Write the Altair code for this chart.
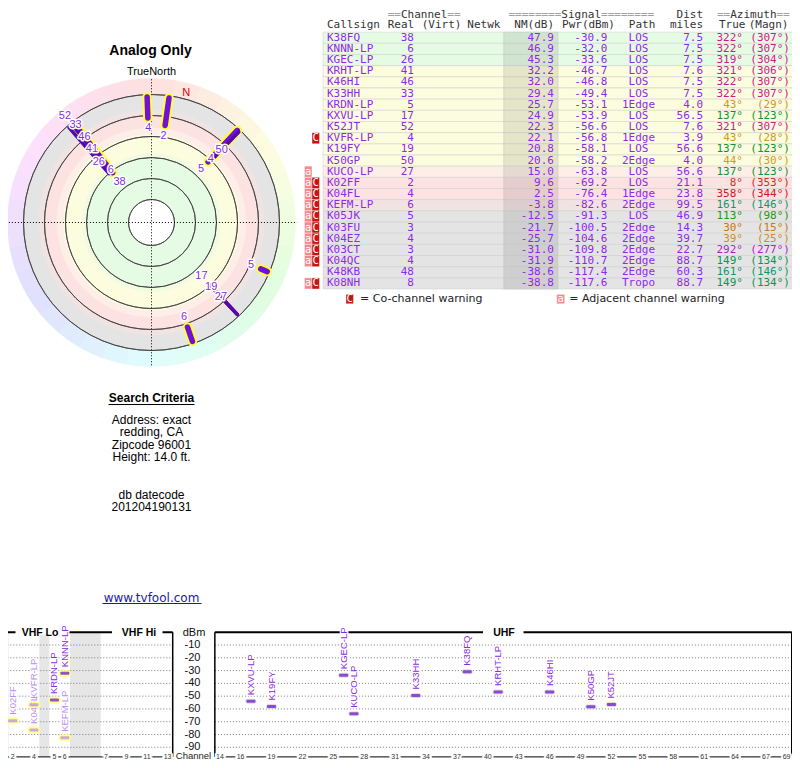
import math
import colorsys
import altair as alt
import pandas as pd

# ------------------------------------------------------------------ data
callsign = ["K38FQ", "KNNN-LP", "KGEC-LP", "KRHT-LP", "K46HI", "K33HH", "KRDN-LP",
            "KXVU-LP", "K52JT", "KVFR-LP", "K19FY", "K50GP", "KUCO-LP", "K02FF",
            "K04FL", "KEFM-LP", "K05JK", "K03FU", "K04EZ", "K03CT", "K04QC",
            "K48KB", "K08NH"]
real_ch = [38, 6, 26, 41, 46, 33, 5, 17, 52, 4, 19, 50, 27, 2, 4, 6, 5, 3, 4, 3, 4, 48, 8]
nm_db = [47.9, 46.9, 45.3, 32.2, 32.0, 29.4, 25.7, 24.9, 22.3, 22.1, 20.8, 20.6, 15.0,
         9.6, 2.5, -3.8, -12.5, -21.7, -25.7, -31.0, -31.9, -38.6, -38.8]
pwr_dbm = [-30.9, -32.0, -33.6, -46.7, -46.8, -49.4, -53.1, -53.9, -56.6, -56.8, -58.1,
           -58.2, -63.8, -69.2, -76.4, -82.6, -91.3, -100.5, -104.6, -109.8, -110.7,
           -117.4, -117.6]
path_type = ["LOS", "LOS", "LOS", "LOS", "LOS", "LOS", "1Edge", "LOS", "LOS", "1Edge",
             "LOS", "2Edge", "LOS", "LOS", "1Edge", "2Edge", "LOS", "2Edge", "2Edge",
             "2Edge", "2Edge", "2Edge", "Tropo"]
dist_miles = [7.5, 7.5, 7.5, 7.6, 7.5, 7.5, 4.0, 56.5, 7.6, 3.9, 56.6, 4.0, 56.6, 21.1,
              23.8, 99.5, 46.9, 14.3, 39.7, 22.7, 88.7, 60.3, 88.7]
az_true = [322, 322, 319, 321, 322, 322, 43, 137, 321, 43, 137, 44, 137, 8, 358, 161,
           113, 30, 39, 292, 149, 161, 149]
az_magn = [307, 307, 304, 306, 307, 307, 29, 123, 307, 28, 123, 30, 123, 353, 344, 146,
           98, 15, 25, 277, 134, 146, 134]
adj_warning = [0] * 12 + [1] * 9 + [0, 1]
co_warning = [0] * 9 + [1] + [0] * 3 + [1] * 8 + [0, 1]

vhf_ticks = [2, 4, 5, 6, 7, 9, 11, 13]
uhf_ticks = [14, 16, 19, 22, 25, 28, 31, 34, 37, 40, 43, 46, 49, 52, 55, 58, 61, 64, 67, 69]
dbm_ticks = [-10, -20, -30, -40, -50, -60, -70, -80, -90]
ring_nm = [90, 67.5, 45, 22.5, 0, -22.5]
search_lines = ["Address: exact", "redding, CA", "Zipcode 96001", "Height: 14.0 ft."]
datecode_lines = ["db datecode", "201204190131"]

# ------------------------------------------------------------------ styles
SANS = "Liberation Sans"
VERD = "DejaVu Sans"
MONO = "DejaVu Sans Mono"
PURPLE = "#9028e8"
LABEL_PURPLE = "#8a2be2"
HEAD = "#333333"
EQ = "#a0a0a0"
CO_RED = "#c81414"
ADJ_RED = "#f28a8a"

BAND_LIMITS = [(90, 44), (44, 40), (40, 20), (20, 13), (13, 0), (0, -6), (-6, -22.5)]
BAND_COLORS = ["#e6fbe4", "#f1fbdf", "#fcfcdf", "#fdefe7", "#fde2e2", "#f2e3e3", "#e4e4e4"]


def hexc(rgb):
    return "#%02x%02x%02x" % tuple(max(0, min(255, int(round(v * 255)))) for v in rgb)


def az_color(a):
    l = 0.45 - 0.13 * max(0.0, math.cos(math.radians(a - 140)))
    return hexc(colorsys.hls_to_rgb((a % 360) / 360.0, l, 0.78))


def pastel(a):
    return hexc(colorsys.hls_to_rgb((a % 360) / 360.0, 0.935, 0.9))


def darker(h, f=0.91):
    r, g, b = (int(h[i:i + 2], 16) for i in (1, 3, 5))
    return "#%02x%02x%02x" % (int(r * f), int(g * f), int(b * f))


def band_color(nm):
    for (hi, lo), c in zip(BAND_LIMITS, BAND_COLORS):
        if nm >= lo:
            return c
    return BAND_COLORS[-1]


def ch_mhz(c):
    if c <= 4:
        lo = 54 + 6 * (c - 2)
    elif c <= 6:
        lo = 76 + 6 * (c - 5)
    elif c <= 13:
        lo = 174 + 6 * (c - 7)
    else:
        lo = 470 + 6 * (c - 14)
    return lo + 3


def free_text(text, x, y, **kw):
    return alt.Chart(pd.DataFrame({"t": [text]})).mark_text(**kw).encode(
        text="t:N", x=alt.value(x), y=alt.value(y))


st = pd.DataFrame(dict(call=callsign, ch=real_ch, nm=nm_db, pwr=pwr_dbm, pth=path_type,
                       dist=dist_miles, az=az_true, mag=az_magn, adj=adj_warning,
                       co=co_warning))
st["row"] = list(range(len(st)))
st["vhf"] = st["ch"] <= 13

# ------------------------------------------------------------------ polar plot
NM_CENTER, NM_WHEEL, NM_RING_OUT, BAR_FLOOR = 114.64, -39.64, -22.5, -20.0
CX, CY, R_PX = 143.5, 214.5, 144.0
RHO_MAX = NM_CENTER - NM_WHEEL
PXDB = R_PX / RHO_MAX

PX = alt.Scale(domain=[-RHO_MAX, RHO_MAX], range=[CX - R_PX, CX + R_PX], nice=False, zero=False)
PY = alt.Scale(domain=[-RHO_MAX, RHO_MAX], range=[CY + R_PX, CY - R_PX], nice=False, zero=False)
PR = alt.Scale(type="linear", domain=[NM_CENTER, NM_WHEEL], range=[0, R_PX], nice=False, zero=False)
PT = alt.Scale(domain=[0, 360], range=[0, 2 * math.pi], nice=False, zero=False)

center = dict(x=alt.XDatum(0, type="quantitative", scale=PX, axis=None),
              y=alt.YDatum(0, type="quantitative", scale=PY, axis=None))


def cart(rho, az):
    return rho * math.sin(math.radians(az)), rho * math.cos(math.radians(az))


wheel = pd.DataFrame({"a0": list(range(0, 360, 10))})
wheel["a1"] = wheel["a0"] + 10
wheel["r0"] = NM_WHEEL
wheel["r1"] = NM_RING_OUT
wheel["c"] = [pastel(a + 5) for a in wheel["a0"]]

bands = pd.DataFrame({"hi": [b[0] for b in BAND_LIMITS], "lo": [b[1] for b in BAND_LIMITS],
                      "c": BAND_COLORS})
bands["a0"] = 0
bands["a1"] = 360

rings = pd.DataFrame({"nm": ring_nm, "a0": 0, "a1": 360})

cross = pd.DataFrame({"x": [-156.0, 0.0], "y": [0.0, -153.0], "x2": [156.0, 0.0], "y2": [0.0, 155.0]})

pol = st[st["nm"] >= -15].copy()
p1 = [cart(NM_CENTER - n, a) for n, a in zip(pol["nm"], pol["az"])]
p2 = [cart(NM_CENTER - BAR_FLOOR, a) for a in pol["az"]]
pol["x1"] = [p[0] for p in p1]
pol["y1"] = [p[1] for p in p1]
pol["x2"] = [p[0] for p in p2]
pol["y2"] = [p[1] for p in p2]

# channel labels: stacked outward along each azimuth cluster
srt = pol.sort_values("az")
clusters, cur, prev = [], [], None
for _, r in srt.iterrows():
    if prev is not None and r["az"] - prev > 5:
        clusters.append(cur)
        cur = []
    cur.append(r)
    prev = r["az"]
clusters.append(cur)
lab_rows = []
for cl in clusters:
    last = -1e9
    for r in sorted(cl, key=lambda q: -q["nm"]):
        own = (NM_CENTER - r["nm"]) * PXDB - 10.5
        pos = max(own, last + 14.3)
        last = pos
        lx, ly = cart(pos / PXDB, r["az"])
        lab_rows.append(dict(t=str(r["ch"]), x=lx, y=ly))
plabels = pd.DataFrame(lab_rows)

decl = (az_true[0] - az_magn[0]) % 360
nx, ny = cart(134 / PXDB, decl)
north = pd.DataFrame({"t": ["N"], "x": [nx], "y": [ny]})

wheel_l = alt.Chart(wheel).mark_arc(strokeWidth=0.6).encode(
    **center,
    theta=alt.Theta("a0:Q", scale=PT, stack=None), theta2=alt.Theta2("a1"),
    radius=alt.Radius("r0:Q", scale=PR), radius2=alt.Radius2("r1"),
    fill=alt.Fill("c:N", scale=None), stroke=alt.Stroke("c:N", scale=None))
bands_l = alt.Chart(bands).mark_arc(strokeWidth=0.6).encode(
    **center,
    theta=alt.Theta("a0:Q", scale=PT, stack=None), theta2=alt.Theta2("a1"),
    radius=alt.Radius("lo:Q", scale=PR), radius2=alt.Radius2("hi"),
    fill=alt.Fill("c:N", scale=None), stroke=alt.Stroke("c:N", scale=None))
rings_l = alt.Chart(rings).mark_arc(fillOpacity=0, stroke="#3c3c3c", strokeWidth=0.8).encode(
    **center,
    theta=alt.Theta("a0:Q", scale=PT, stack=None), theta2=alt.Theta2("a1"),
    radius=alt.Radius("nm:Q", scale=PR), radius2=alt.Radius2("nm"))
cross_l = alt.Chart(cross).mark_rule(color="black", strokeWidth=1, strokeDash=[1, 2]).encode(
    x=alt.X("x:Q", scale=PX, axis=None), y=alt.Y("y:Q", scale=PY, axis=None),
    x2="x2", y2="y2")


def bar_layer(df, **kw):
    return alt.Chart(df).mark_rule(strokeCap="round", **kw).encode(
        x=alt.X("x1:Q", scale=PX, axis=None), y=alt.Y("y1:Q", scale=PY, axis=None),
        x2="x2", y2="y2")


vhf_pol = pol[pol["vhf"]]
uhf_pol = pol[~pol["vhf"]]
halo_l = bar_layer(vhf_pol, color="#ffff33", strokeWidth=9.5)
vbar_l = bar_layer(vhf_pol, color="#7210d8", strokeWidth=5.5)
ubar_l = bar_layer(uhf_pol, color="#5808a8", strokeWidth=3.5)

plab_halo = alt.Chart(plabels).mark_text(font=SANS, fontSize=11, color="white", stroke="white",
                                         strokeWidth=3, strokeJoin="round").encode(
    x=alt.X("x:Q", scale=PX, axis=None), y=alt.Y("y:Q", scale=PY, axis=None), text="t:N")
plab = alt.Chart(plabels).mark_text(font=SANS, fontSize=11, color=LABEL_PURPLE).encode(
    x=alt.X("x:Q", scale=PX, axis=None), y=alt.Y("y:Q", scale=PY, axis=None), text="t:N")
north_l = alt.Chart(north).mark_text(font=SANS, fontSize=11, color="#dd0000").encode(
    x=alt.X("x:Q", scale=PX, axis=None), y=alt.Y("y:Q", scale=PY, axis=None), text="t:N")

polar = alt.layer(wheel_l, bands_l, rings_l, cross_l, halo_l, vbar_l, ubar_l,
                  plab_halo, plab, north_l)

# ------------------------------------------------------------------ table
TX = alt.Scale(domain=[0, 100], range=[319, 319 + 662], nice=False, zero=False)
TY = alt.Scale(domain=[0, 22], range=[29.7, 29.7 + 22 * 11.17], nice=False, zero=False)

rows = st[["row", "nm"]].copy()
rows["y0"] = rows["row"] - 0.5
rows["y1"] = rows["row"] + 0.5
rows["bg"] = [band_color(n) for n in rows["nm"]]
rows["nmbg"] = [darker(band_color(n)) for n in rows["nm"]]

bg_l = alt.Chart(rows).mark_rect(stroke="#cdcdcd", strokeWidth=0.5).encode(
    x=alt.XDatum(-0.6, type="quantitative", scale=TX, axis=None), x2=alt.X2Datum(70.5),
    y=alt.Y("y0:Q", scale=TY, axis=None), y2="y1",
    fill=alt.Fill("bg:N", scale=None))
nmbg_l = alt.Chart(rows).mark_rect(stroke="#c4c4c4", strokeWidth=0.5).encode(
    x=alt.XDatum(26.7, type="quantitative", scale=TX, axis=None), x2=alt.X2Datum(34.9),
    y=alt.Y("y0:Q", scale=TY, axis=None), y2="y1",
    fill=alt.Fill("nmbg:N", scale=None))

badges = []
for _, r in st.iterrows():
    i = r["row"]
    if r["adj"]:
        badges.append(dict(x0=-3.4, x1=-2.27, y0=i - 0.5, y1=i + 0.5, yc=i, t="a", f=ADJ_RED))
    if r["co"]:
        badges.append(dict(x0=-2.27, x1=-1.13, y0=i - 0.5, y1=i + 0.5, yc=i, t="C", f=CO_RED))
LEG_Y = 23.4
badges.append(dict(x0=2.87, x1=4.0, y0=LEG_Y - 0.42, y1=LEG_Y + 0.42, yc=LEG_Y, t="C", f=CO_RED))
badges.append(dict(x0=34.7, x1=35.9, y0=LEG_Y - 0.42, y1=LEG_Y + 0.42, yc=LEG_Y, t="a", f=ADJ_RED))
badges = pd.DataFrame(badges)
badges["xc"] = (badges["x0"] + badges["x1"]) / 2

badge_l = alt.Chart(badges).mark_rect(stroke="white", strokeWidth=0.4).encode(
    x=alt.X("x0:Q", scale=TX, axis=None), x2="x1",
    y=alt.Y("y0:Q", scale=TY, axis=None), y2="y1",
    fill=alt.Fill("f:N", scale=None))
badge_t = alt.Chart(badges).mark_text(font=MONO, fontSize=10.5, color="white", baseline="middle").encode(
    x=alt.X("xc:Q", scale=TX, axis=None), y=alt.Y("yc:Q", scale=TY, axis=None), text="t:N")

txt = []


def add(x, y, t, c, al, fam="mono"):
    txt.append(dict(x=x, y=y, t=t, c=c, al=al, fam=fam))


for _, r in st.iterrows():
    i = r["row"]
    add(0, i, r["call"], PURPLE, "left")
    add(13.14, i, str(r["ch"]), PURPLE, "right")
    add(34.29, i, f"{r['nm']:.1f}", PURPLE, "right")
    add(42.37, i, f"{r['pwr']:.1f}", PURPLE, "right")
    add(47.05, i, r["pth"], PURPLE, "center")
    add(56.8, i, f"{r['dist']:.1f}", PURPLE, "right")
    c = az_color(r["az"])
    add(62.84, i, f"{r['az']}\u00b0", c, "right")
    add(69.94, i, f"({r['mag']}\u00b0)", c, "right")

HDR1, HDR2 = -2.0, -1.12
for x, t in [(0, "Callsign"), (9.17, "Real"), (14.3, "(Virt)"), (21.2, "Netwk"),
             (28.3, "NM(dB)"), (35.5, "Pwr(dBm)"), (45.6, "Path"), (51.8, "miles"),
             (59.2, "True"), (63.7, "(Magn)")]:
    add(x, HDR2, t, HEAD, "left")
for x0, word, n in [(9.17, "Channel", 2), (27.4, "Signal", 8), (58.9, "Azimuth", 2)]:
    add(x0, HDR1, "=" * n, EQ, "left")
    add(x0 + n, HDR1, word, HEAD, "left")
    add(x0 + n + len(word), HDR1, "=" * n, EQ, "left")
add(52.8, HDR1, "Dist", HEAD, "left")
add(5.0, LEG_Y, "= Co-channel warning", "#222222", "left", "sans")
add(36.6, LEG_Y, "= Adjacent channel warning", "#222222", "left", "sans")
txt = pd.DataFrame(txt)

text_layers = []
for al in ["left", "right", "center"]:
    for fam, font in [("mono", MONO), ("sans", VERD)]:
        sub = txt[(txt["al"] == al) & (txt["fam"] == fam)]
        if len(sub) == 0:
            continue
        text_layers.append(
            alt.Chart(sub).mark_text(align=al, baseline="middle", font=font, fontSize=11).encode(
                x=alt.X("x:Q", scale=TX, axis=None), y=alt.Y("y:Q", scale=TY, axis=None),
                text="t:N", color=alt.Color("c:N", scale=None)))

table = alt.layer(bg_l, nmbg_l, badge_l, badge_t, *text_layers)

# ------------------------------------------------------------------ info text
info_layers = [
    free_text("Analog Only", 142.5, 43, font=SANS, fontSize=14, fontWeight="bold", color="black"),
    free_text("TrueNorth", 143.5, 64, font=SANS, fontSize=11, color="black"),
    free_text("Search Criteria", 143.5, 389.5, font=SANS, fontSize=12, fontWeight="bold", color="black"),
    alt.Chart(pd.DataFrame({"k": [1]})).mark_rule(color="black", strokeWidth=1).encode(
        x=alt.value(100.5), x2=alt.value(186.5), y=alt.value(396.5)),
]
for k, line in enumerate(search_lines):
    info_layers.append(free_text(line, 143.5, 411.5 + 12.5 * k, font=SANS, fontSize=12, color="black"))
for k, line in enumerate(datecode_lines):
    info_layers.append(free_text(line, 143.5, 486.5 + 12.5 * k, font=SANS, fontSize=12, color="black"))
info_layers.append(free_text("www.tvfool.com", 143.5, 593.5, font=VERD, fontSize=12,
                             color="#1a1aaa", baseline="alphabetic"))
info_layers.append(alt.Chart(pd.DataFrame({"k": [1]})).mark_rule(color="#1a1aaa", strokeWidth=1).encode(
    x=alt.value(94.5), x2=alt.value(193.5), y=alt.value(595.5)))
info = alt.layer(*info_layers)

# ------------------------------------------------------------------ spectrum charts
FLOOR = -97.5
SY = alt.Scale(domain=[0, FLOOR], range=[624.2, 624.2 + 1.279 * 97.5], nice=False, zero=False)
VX = alt.Scale(domain=[54, 72, 76, 88, 174, 216], range=[-0.7, 31.3, 41.3, 62, 92.7, 164.7],
               nice=False, zero=False)
UX = alt.Scale(domain=[470, 806], range=[206.85, 783.75], nice=False, zero=False)

spec = st[st["nm"] >= -5].copy()
spec["f"] = [ch_mhz(c) for c in spec["ch"]]
spec["core"] = ["#b588f2" if c else "#6a0cd0" for c in spec["co"]]
spec["lab"] = ["#b98ef0" if c else "#8a2be2" for c in spec["co"]]
spec["halo"] = ["#ffff70" if v else "#cfcfcf" for v in spec["vhf"]]


def spectrum(xs, fmin, fmax, gaps, ticks, stations, gap_px, titles, halo_size):
    L = []
    if gaps is not None:
        L.append(alt.Chart(gaps).mark_rect(color="#e6e6e6").encode(
            x=alt.X("f0:Q", scale=xs, axis=None), x2="f1",
            y=alt.YDatum(0, type="quantitative", scale=SY, axis=None), y2=alt.Y2Datum(FLOOR)))
    grid = pd.DataFrame({"dbm": dbm_ticks})
    L.append(alt.Chart(grid).mark_rule(color="#7a7a7a", strokeWidth=1, strokeDash=[1, 2]).encode(
        y=alt.Y("dbm:Q", scale=SY, axis=None),
        x=alt.XDatum(fmin, type="quantitative", scale=xs, axis=None), x2=alt.X2Datum(fmax)))
    frame = pd.DataFrame({"x": [fmin, fmin, fmax, fmin], "x2": [fmax, fmin, fmax, fmax],
                          "y": [0, 0, 0, FLOOR], "y2": [0, FLOOR, FLOOR, FLOOR],
                          "w": [2.0, 1.5, 1.5, 1.0]})
    L.append(alt.Chart(frame).mark_rule(color="black").encode(
        x=alt.X("x:Q", scale=xs, axis=None), x2="x2",
        y=alt.Y("y:Q", scale=SY, axis=None), y2="y2",
        strokeWidth=alt.StrokeWidth("w:Q", scale=None)))
    for a, b in gap_px:
        L.append(alt.Chart(pd.DataFrame({"k": [1]})).mark_rule(color="white", strokeWidth=5).encode(
            x=alt.value(a), x2=alt.value(b), y=alt.value(624.2)))
    for t, x in titles:
        L.append(free_text(t, x, 624.6, font=SANS, fontSize=10.5, fontWeight="bold", color="black"))
    tk = pd.DataFrame({"ch": ticks})
    tk["f"] = [ch_mhz(c) for c in tk["ch"]]
    tk["t"] = [str(c) for c in tk["ch"]]
    for halo in (True, False):
        kw = dict(color="white", stroke="white", strokeWidth=4) if halo else dict(color="#333333")
        L.append(alt.Chart(tk).mark_text(font=SANS, fontSize=7, baseline="middle", **kw).encode(
            x=alt.X("f:Q", scale=xs, axis=None),
            y=alt.YDatum(FLOOR, type="quantitative", scale=SY, axis=None), text="t:N"))
    # station labels
    L.append(alt.Chart(stations).mark_text(font=SANS, fontSize=9.5, angle=270, align="left",
                                           baseline="middle", dx=6, color="white", stroke="white",
                                           strokeWidth=2.5).encode(
        x=alt.X("f:Q", scale=xs, axis=None), y=alt.Y("pwr:Q", scale=SY, axis=None), text="call:N"))
    L.append(alt.Chart(stations).mark_text(font=SANS, fontSize=9.5, angle=270, align="left",
                                           baseline="middle", dx=6).encode(
        x=alt.X("f:Q", scale=xs, axis=None), y=alt.Y("pwr:Q", scale=SY, axis=None), text="call:N",
        color=alt.Color("lab:N", scale=None)))
    # markers
    L.append(alt.Chart(stations).mark_tick(orient="horizontal", size=halo_size[0],
                                           thickness=halo_size[1], cornerRadius=3).encode(
        x=alt.X("f:Q", scale=xs, axis=None), y=alt.Y("pwr:Q", scale=SY, axis=None),
        color=alt.Color("halo:N", scale=None)))
    L.append(alt.Chart(stations).mark_tick(orient="horizontal", size=9, thickness=3,
                                           cornerRadius=1).encode(
        x=alt.X("f:Q", scale=xs, axis=None), y=alt.Y("pwr:Q", scale=SY, axis=None),
        color=alt.Color("core:N", scale=None)))
    return L


vgaps = pd.DataFrame({"f0": [72, 88], "f1": [76, 174]})
vhf_layers = spectrum(VX, 54, 216, vgaps, vhf_ticks, spec[spec["vhf"]],
                      [(7.5, 58.0), (104.0, 154.5)], [("VHF Lo", 32.0), ("VHF Hi", 131.0)],
                      (13, 7))
dbm_df = pd.DataFrame({"dbm": dbm_ticks, "t": [str(d) for d in dbm_ticks]})
vhf_layers.append(alt.Chart(dbm_df).mark_text(font=SANS, fontSize=11, align="right",
                                              baseline="middle", color="#111111").encode(
    x=alt.value(192.5), y=alt.Y("dbm:Q", scale=SY, axis=None), text="t:N"))
vhf_layers.append(free_text("dBm", 186, 624.6, font=SANS, fontSize=11, color="#111111"))
vhf_layers.append(free_text("Channel", 185.5, 748.2, font=SANS, fontSize=9.5, color="#222222"))
vhf = alt.layer(*vhf_layers)

uhf_layers = spectrum(UX, 470, 806, None, uhf_ticks, spec[~spec["vhf"]],
                      [(475.0, 515.5)], [("UHF", 496.0)], (11, 5))
uhf = alt.layer(*uhf_layers)

chart = alt.layer(polar, table, info, vhf, uhf).resolve_scale(
    x="independent", y="independent", theta="independent", radius="independent"
).properties(
    width=784, height=752, padding=0, background="white",
    autosize=alt.AutoSizeParams(type="none")
).configure_view(strokeWidth=0)

chart.save("out.html", embed_options={"renderer": "svg", "actions": False})
